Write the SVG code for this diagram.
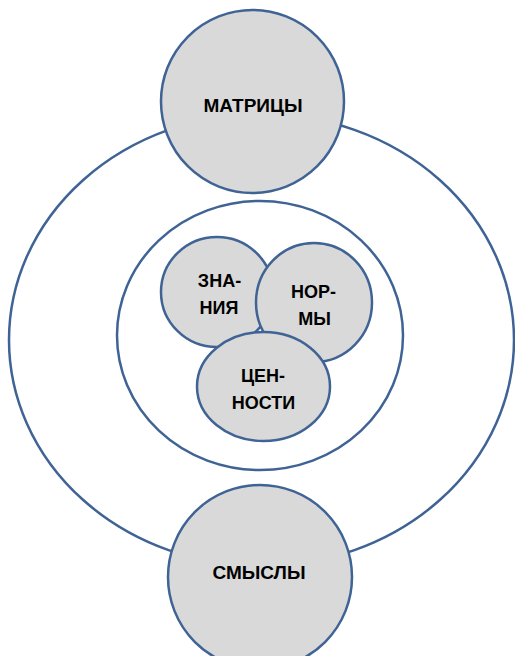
<svg xmlns="http://www.w3.org/2000/svg" width="515" height="656" viewBox="0 0 515 656">
<style>
.ring{fill:none;stroke:#3f6394;stroke-width:2.5}
.node{fill:#d9d9d9;stroke:#3f6394;stroke-width:2.5}
.lbl{font-family:"Liberation Sans",Arial,sans-serif;font-weight:bold;font-size:18px;fill:#000;text-anchor:middle}
.big{font-size:19px}
</style>
<rect width="515" height="656" fill="#fff"/>
<g id="outer-ring"><ellipse class="ring" cx="261.5" cy="340" rx="252.5" ry="226"/></g>
<g id="inner-ring"><ellipse class="ring" cx="260" cy="335.5" rx="143" ry="134.5"/></g>
<g id="matricy"><circle class="node" cx="252.5" cy="101.5" r="91.5"/><text class="lbl big" x="253" y="112">МАТРИЦЫ</text></g>
<g id="smysly"><circle class="node" cx="260" cy="577" r="92"/><text class="lbl big" x="259" y="579">СМЫСЛЫ</text></g>
<g id="znaniya"><ellipse class="node" cx="217" cy="292" rx="56" ry="55"/><text class="lbl" x="219.5" y="287">ЗНА-</text><text class="lbl" x="219" y="314">НИЯ</text></g>
<g id="normy"><ellipse class="node" cx="314" cy="302.5" rx="58" ry="59.5"/><text class="lbl" x="313.5" y="298">НОР-</text><text class="lbl" x="314.5" y="325">МЫ</text></g>
<g id="cennosti"><ellipse class="node" cx="263.5" cy="386.5" rx="66.5" ry="54.5"/><text class="lbl" x="263" y="382">ЦЕН-</text><text class="lbl" x="263.5" y="409">НОСТИ</text></g>
<g id="connectors"></g>
</svg>
